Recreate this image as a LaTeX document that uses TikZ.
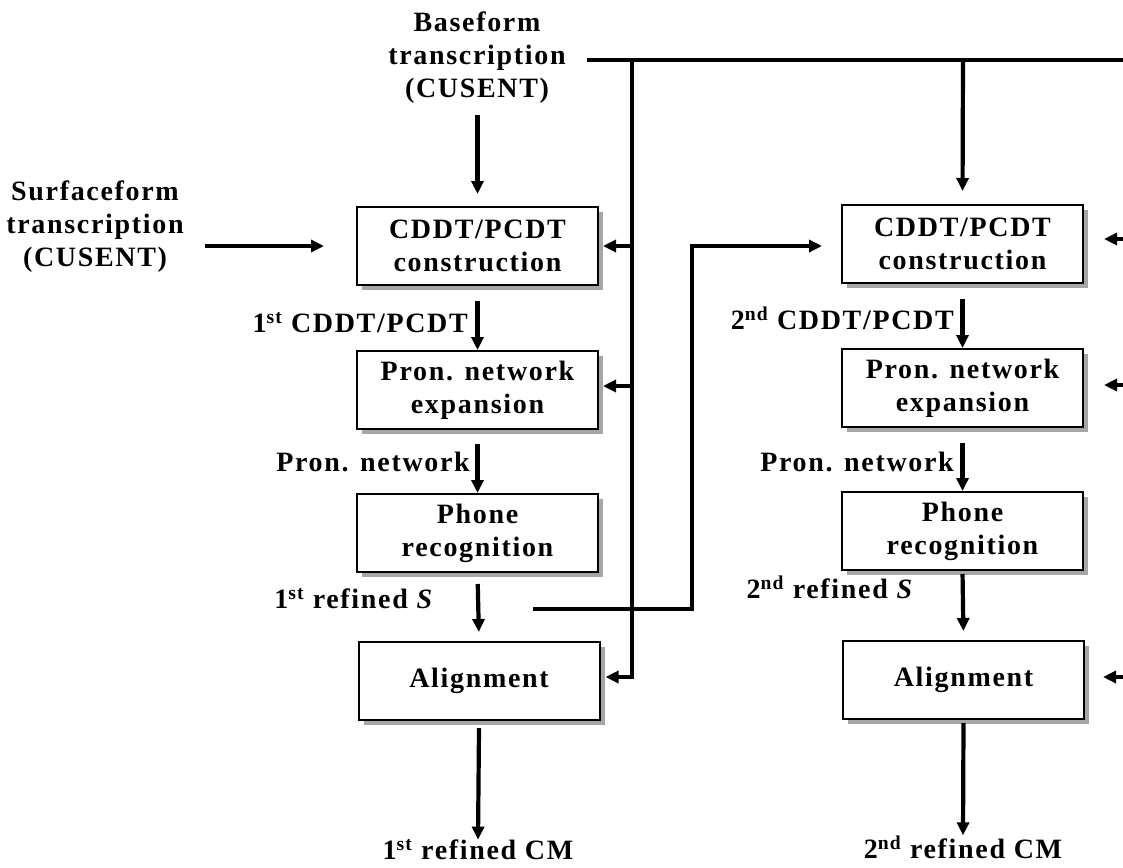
\documentclass[tikz,border=0pt]{standalone}
\usepackage{fontspec}
\setmainfont{Liberation Serif}[LetterSpace=6]
\usetikzlibrary{arrows.meta,shadows,calc}

\begin{document}
\begin{tikzpicture}[x=1pt,y=-1pt,
  txt/.style={font=\fontsize{28}{33}\selectfont\bfseries, align=center, inner sep=0pt},
  stage/.style={txt, draw, line width=2pt, fill=white,
    minimum width=241pt, minimum height=78pt,
    drop shadow={shadow xshift=5pt, shadow yshift=-5pt, fill=gray!70, opacity=1}},
  conn/.style={line width=4.2pt},
  arr/.style={conn, -{Triangle[length=13pt,width=12pt]}},
]
\fill[white] (0,0) rectangle (1123,867);
\useasboundingbox (0,0) rectangle (1123,867);
\clip (0,0) rectangle (1123,867);

% inputs
\node[txt] (base) at (477,58) {Baseform\\transcription\\(CUSENT)};
\node[txt] (surf) at (95,227) {Surfaceform\\transcription\\(CUSENT)};

% first pass
\node[stage] (L1) at (477.5,246) {CDDT/PCDT\\construction};
\node[stage] (L2) at (477.5,390) {Pron. network\\expansion};
\node[stage] (L3) at (477.5,533) {Phone\\recognition};
\node[stage] (L4) at (479,681) {Alignment};

% second pass
\node[stage] (R1) at (962.5,244) {CDDT/PCDT\\construction};
\node[stage] (R2) at (962.5,388) {Pron. network\\expansion};
\node[stage] (R3) at (962.5,531) {Phone\\recognition};
\node[stage] (R4) at (963.5,680) {Alignment};

% intermediate results
\node[txt, anchor=east] (l12) at (468,323) {1\textsuperscript{st} CDDT/PCDT};
\node[txt, anchor=east] (l23) at (470,462) {Pron. network};
\node[txt, anchor=east] (l34) at (434,599) {1\textsuperscript{st} refined \textit{S}};
\node[txt] (lout) at (478,850) {1\textsuperscript{st} refined CM};

\node[txt, anchor=east] (r12) at (954,318) {2\textsuperscript{nd} CDDT/PCDT};
\node[txt, anchor=east] (r23) at (954,462) {Pron. network};
\node[txt, anchor=east] (r34) at (914,587) {2\textsuperscript{nd} refined \textit{S}};
\node[txt] (rout) at (963,847) {2\textsuperscript{nd} refined CM};

% routing points
\coordinate (tS) at (587,60);
\coordinate (jL) at (632,60);
\coordinate (jR) at (963,60);
\coordinate (tE) at (1123,60);
\coordinate (eR) at (1123,0);
\coordinate (fd) at (533,609);
\coordinate (fk) at (692,609);

% baseform distribution bus
\draw[conn] (tS) -- (tE);
\draw[arr] (jL) |- ([xshift=5pt,yshift=4pt]L4.east);
\draw[arr] (jL |- L1.east) -- ([xshift=4pt]L1.east);
\draw[arr] (jL |- 0,386) -- ([xshift=4pt]L2.east |- 0,386);
\draw[arr, shorten >=13pt] (jR) -- (R1.north);

% first pass flow
\draw[arr] (L1.north |- 0,115) -- ([yshift=12pt]L1.north);
\draw[arr, shorten <=122pt, shorten >=32pt] (L1.west -| 83,0) -- (L1.west);
\draw[arr, shorten <=15pt] (L1.south) -- (L2.north);
\draw[arr, shorten <=14pt] (L2.south) -- (L3.north);
\draw[arr, shorten <=11pt, shorten >=9pt] (L3.south) -- (L4.north);
\draw[arr] ([yshift=-7pt]L4.south) -- (lout.north);

% feedback into the second pass
\draw[arr] (fd) -- (fk) |- ([xshift=-19pt,yshift=-2pt]R1.west);

% second pass flow
\draw[arr, shorten <=15pt] (R1.south) -- (R2.north);
\draw[arr, shorten <=15pt] (R2.south) -- (R3.north);
\draw[arr, shorten <=3pt, shorten >=9pt] (R3.south) -- (R4.north);
\draw[arr] ([yshift=-3pt]R4.south) -- (rout.north);

% inputs entering from the right
\draw[arr] (R1.east -| eR) ++(0,-5) -- ([xshift=20pt,yshift=5pt]R1.east);
\draw[arr] (eR |- 0,385) -- ([xshift=20pt]R2.east |- 0,385);
\draw[arr] (eR |- 0,677) -- ([xshift=18pt]R4.east |- 0,677);
\end{tikzpicture}
\end{document}
